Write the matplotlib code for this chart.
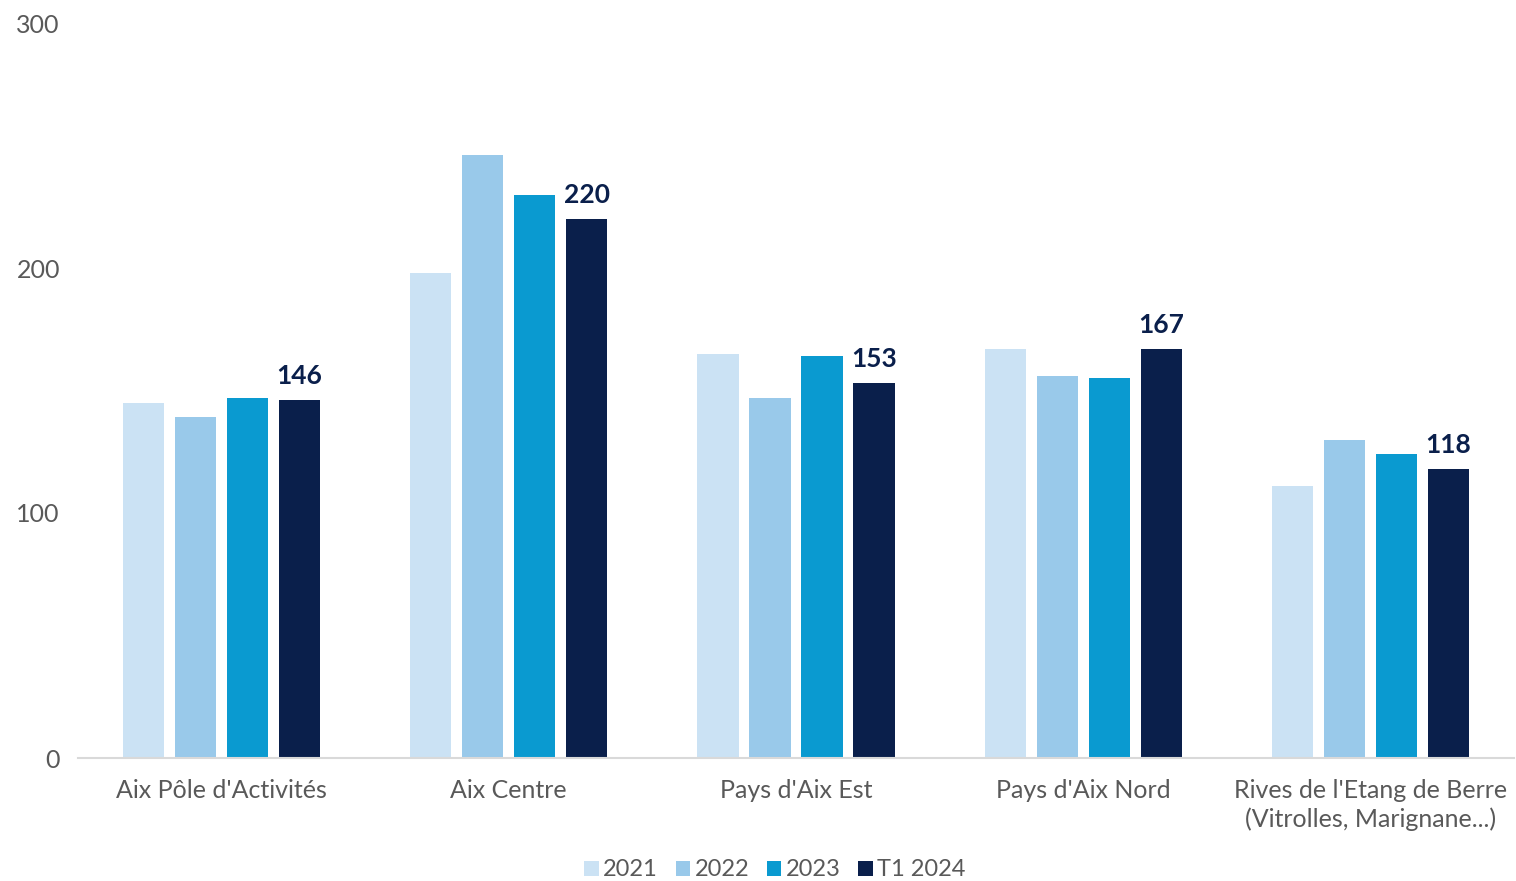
import matplotlib.pyplot as plt
import numpy as np

plt.rcParams['font.family'] = ['Lato', 'DejaVu Sans']

zones = ["Aix Pôle d'Activités", "Aix Centre", "Pays d'Aix Est", "Pays d'Aix Nord",
         "Rives de l'Etang de Berre\n(Vitrolles, Marignane...)"]
series = ["2021", "2022", "2023", "T1 2024"]
v2021 = [145, 198, 165, 167, 111]
v2022 = [139, 246, 147, 156, 130]
v2023 = [147, 230, 164, 155, 124]
vT1_2024 = [146, 220, 153, 167, 118]
colors = ["#cbe2f4", "#99c9ea", "#0a9ad0", "#0a1f4b"]

fig = plt.figure(figsize=(15.16, 8.81), dpi=100)
ax = fig.add_axes([78 / 1516, 123 / 881, 1436 / 1516, 735 / 881])

x = np.arange(len(zones))
w = 0.143
step = 0.181
for i, (vals, col, lab) in enumerate(zip([v2021, v2022, v2023, vT1_2024], colors, series)):
    pos = x + (i - 1.5) * step
    ax.bar(pos, vals, width=w, color=col, label=lab, zorder=2)

# value labels on the last series only
for xi, v in zip(x + 1.5 * step, vT1_2024):
    ax.text(xi, v + 5, str(v), ha='center', va='bottom', fontsize=19,
            fontweight='bold', color="#0a1f4b")

ax.set_xlim(-0.5, len(zones) - 0.5)
ax.set_ylim(0, 300)
ax.set_yticks([0, 100, 200, 300])
ax.set_xticks(x)
ax.set_xticklabels(zones, fontsize=18, color="#595959", linespacing=1.3)
ax.tick_params(axis='y', length=0, labelsize=18, labelcolor="#595959", pad=13)
ax.tick_params(axis='x', length=0, pad=15)
for s in ['top', 'right', 'left']:
    ax.spines[s].set_visible(False)
ax.spines['bottom'].set_color("#d9d9d9")
ax.spines['bottom'].set_linewidth(1.5)

fig.legend(loc='center', bbox_to_anchor=(775 / 1516, 1 - 870 / 881), ncol=4,
           frameon=False, fontsize=17, labelcolor="#595959", handlelength=0.6,
           handleheight=0.6, handletextpad=0.2, columnspacing=0.75,
           borderpad=0, borderaxespad=0)

plt.savefig("out.png", dpi=100)
